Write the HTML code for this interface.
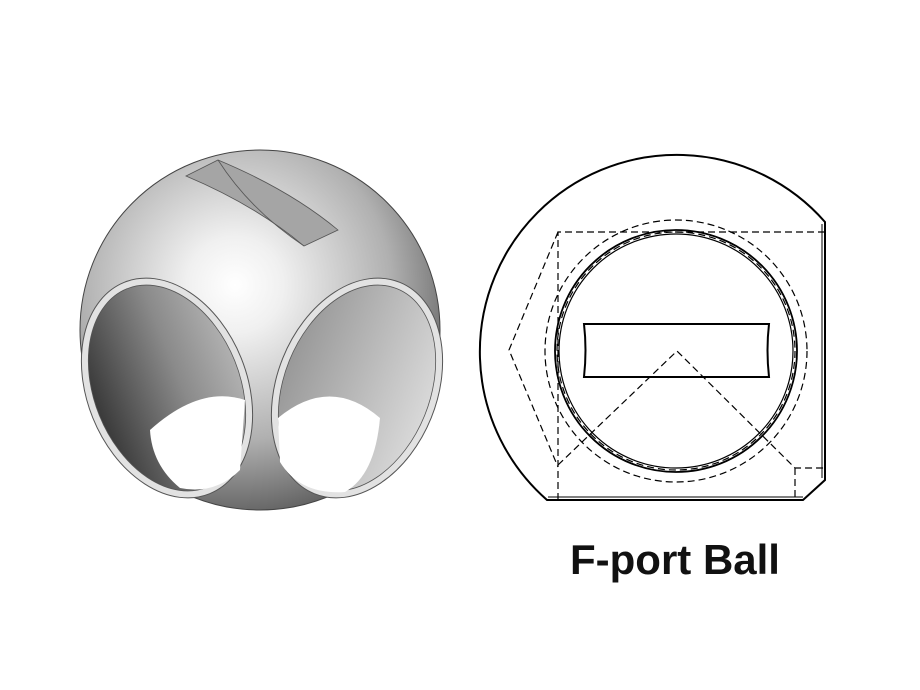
<!DOCTYPE html>
<html><head><meta charset="utf-8"><style>
html,body{margin:0;padding:0;background:#fff;width:920px;height:690px;overflow:hidden}
.t{position:absolute;left:560px;top:536px;width:230px;text-align:center;font:bold 42px "Liberation Sans",sans-serif;color:#111;letter-spacing:0px}
</style></head><body>
<svg width="920" height="690" style="position:absolute;left:0;top:0">
<defs>
<radialGradient id="sg" cx="235" cy="285" r="240" gradientUnits="userSpaceOnUse">
<stop offset="0" stop-color="#ffffff"/><stop offset="0.2" stop-color="#f0f0f0"/><stop offset="0.65" stop-color="#b0b0b0"/><stop offset="1" stop-color="#5a5a5a"/>
</radialGradient>
<linearGradient id="hl" x1="0" y1="0" x2="1" y2="0"><stop offset="0" stop-color="#3a3a3a"/><stop offset="0.6" stop-color="#8a8a8a"/><stop offset="1" stop-color="#b0b0b0"/></linearGradient>
<linearGradient id="hr" x1="0" y1="0" x2="1" y2="0"><stop offset="0" stop-color="#999"/><stop offset="1" stop-color="#d8d8d8"/></linearGradient>
</defs>
<circle cx="260" cy="330" r="180" fill="url(#sg)" stroke="#444" stroke-width="1"/>
<path d="M186 176 L218 160 Q290 190 338 230 L304 246 Q255 205 186 176Z" fill="#a5a5a5" stroke="#555" stroke-width="0.8"/>
<path d="M218 160 Q250 210 304 246" fill="none" stroke="#555" stroke-width="0.8"/>
<ellipse cx="167" cy="388" rx="80" ry="114" transform="rotate(-22 167 388)" fill="#e2e2e2" stroke="#555" stroke-width="1"/>
<ellipse cx="167" cy="388" rx="73" ry="107" transform="rotate(-22 167 388)" fill="url(#hl)" stroke="#555" stroke-width="0.8"/>
<path d="M150 430 Q200 385 245 400 L240 470 Q215 495 180 488 Q152 465 150 430Z" fill="#fff"/>
<ellipse cx="357" cy="388" rx="80" ry="114" transform="rotate(22 357 388)" fill="#e2e2e2" stroke="#555" stroke-width="1"/>
<ellipse cx="357" cy="388" rx="73" ry="107" transform="rotate(22 357 388)" fill="url(#hr)" stroke="#555" stroke-width="0.8"/>
<path d="M278 418 Q330 375 380 418 Q375 475 345 492 Q300 495 280 462Z" fill="#fff"/>
<g fill="none" stroke="#000">
<path d="M825 222 L825 480 L803 500 L547 500 A197 197 0 1 1 825 222Z" stroke-width="2"/>
<line x1="822" y1="224" x2="822" y2="478" stroke-width="1"/>
<line x1="548" y1="497" x2="803" y2="497" stroke-width="1"/>
<circle cx="676" cy="351" r="121" stroke-width="1.8"/>
<circle cx="676" cy="351" r="117" stroke-width="1.2"/>
<path d="M584 324 L769 324 Q766 350 769 377 L584 377 Q587 350 584 324Z" stroke-width="2"/>
<g stroke-dasharray="7 4" stroke-width="1.2">
<circle cx="676" cy="351" r="131"/>
<circle cx="676" cy="351" r="119"/>
<path d="M558 500 L558 232 L825 232"/>
<path d="M558 232 L509 350 L558 467"/>
<path d="M558 465 L677 351 L795 468 L825 468"/>
<path d="M795 468 L795 500"/>
</g>
</g>
</svg>
<div class="t">F-port Ball</div>
</body></html>
